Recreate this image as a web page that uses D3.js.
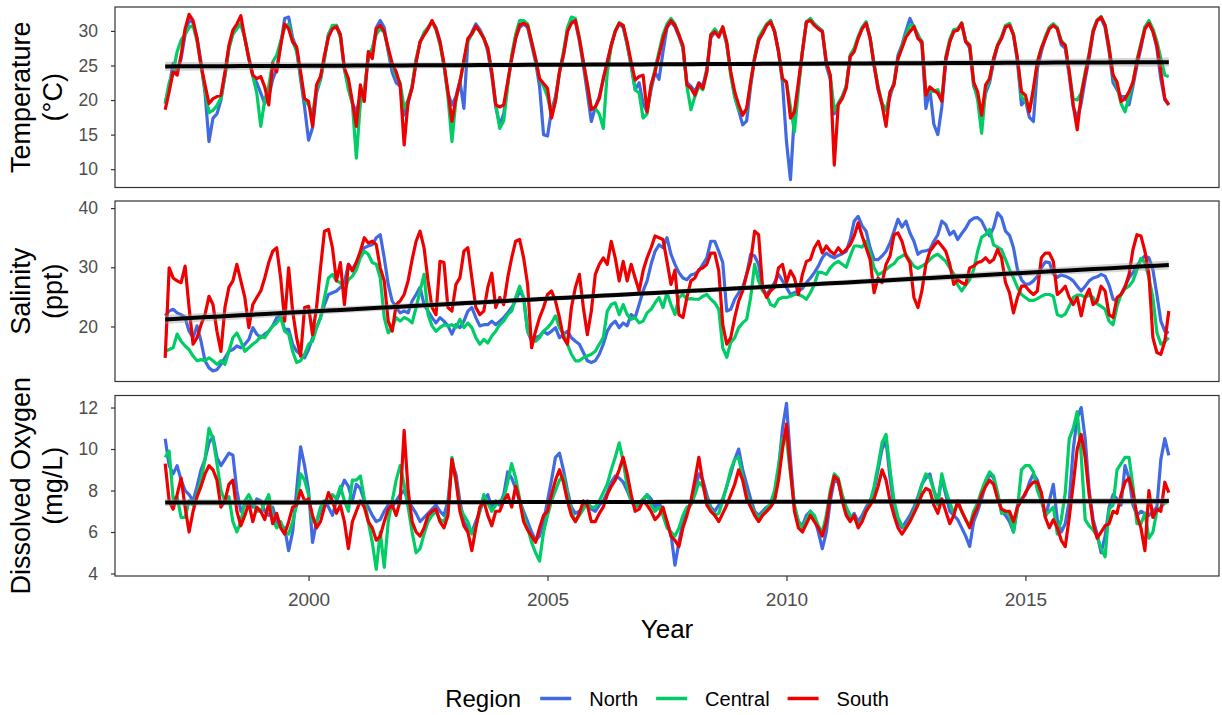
<!DOCTYPE html>
<html>
<head>
<meta charset="utf-8">
<script src="https://cdn.jsdelivr.net/npm/d3@7"></script>
<style>
  body { margin: 0; background: #fff; }
  svg { display: block; }
  text { font-family: "Liberation Sans", Arial, Helvetica, sans-serif; }
</style>
</head>
<body>
<svg id="chart" width="1222" height="715"></svg>
<script>
// Monthly observations, January 1997 to January 2018
const startYear = 1997;

const regions = ["North", "Central", "South"];
const regionColors = ["#4169E1", "#00CD66", "#EE0000"];

// Water temperature (°C)
const tempNorth = [
19.5,22.0,25.3,24.0,26.0,29.5,31.5,31.2,29.0,25.5,21.0,14.0,
17.4,18.0,20.0,23.5,27.5,29.8,30.5,31.0,29.0,26.0,23.5,22.5,
21.0,19.5,20.5,23.0,24.5,28.0,31.8,32.0,29.0,27.5,23.0,19.0,
14.2,16.0,21.0,23.0,26.0,29.5,30.5,30.8,29.5,24.5,22.0,19.5,
18.3,20.5,21.5,26.0,27.0,30.5,31.5,30.5,27.0,24.0,22.5,22.0,
17.8,19.5,22.0,25.5,28.5,29.5,30.5,31.3,30.5,28.5,25.0,21.0,
19.3,20.5,22.8,18.8,28.5,29.8,31.0,30.2,29.0,27.0,23.5,19.0,
16.4,18.0,22.5,26.0,29.0,30.5,31.0,30.5,28.0,25.5,22.0,15.0,
14.8,18.5,20.5,24.0,26.5,30.0,31.5,31.3,28.5,25.0,21.0,16.9,
19.0,20.5,23.0,25.5,28.0,30.0,31.0,30.5,28.0,25.0,21.5,22.5,
19.5,18.3,21.5,24.0,23.0,27.0,30.5,31.3,30.6,29.2,27.5,22.5,
22.0,21.2,22.5,22.0,24.5,29.0,29.8,29.5,30.3,28.0,24.0,20.5,
18.5,16.4,17.0,22.0,26.0,28.5,29.8,30.8,31.5,30.0,27.0,22.5,
14.0,8.5,18.0,22.0,27.0,31.3,31.7,31.0,30.5,30.0,25.0,23.0,
18.0,19.5,20.5,22.0,26.3,27.3,29.0,30.5,31.3,29.0,25.0,21.5,
19.5,18.5,20.5,22.5,26.5,28.0,30.0,31.8,30.5,29.5,28.0,18.8,
21.5,16.5,15.0,19.0,25.5,28.5,30.0,30.3,31.0,28.5,27.5,22.0,
20.5,17.8,21.0,22.5,25.5,27.8,29.0,30.5,31.0,29.5,25.5,19.3,
20.0,17.5,16.9,24.5,27.0,29.0,30.5,31.0,30.3,28.0,27.5,23.5,
19.0,17.4,19.5,23.0,26.0,29.8,31.5,31.8,30.5,27.0,22.5,21.5,
20.5,20.5,19.3,22.0,25.0,27.5,30.5,31.3,30.0,27.5,23.0,20.0,
19.3];
const tempCentral = [
19.5,22.5,24.0,27.0,28.7,29.5,30.5,30.8,28.5,25.0,21.5,18.2,
18.5,19.2,20.3,23.5,27.5,29.5,30.3,31.0,29.0,26.2,23.5,21.0,
16.2,20.0,22.0,25.5,26.5,28.5,30.5,31.0,28.5,27.0,23.5,20.0,
19.3,18.0,21.5,23.0,26.0,29.5,30.8,30.8,29.0,24.5,21.5,19.5,
11.6,19.5,21.0,26.5,27.5,29.5,30.3,29.8,27.3,25.0,23.5,22.5,
18.8,20.0,22.0,26.0,28.3,29.8,30.5,31.3,30.2,28.0,25.0,20.5,
14.0,20.0,22.5,25.5,28.5,29.5,30.5,30.0,29.0,27.5,24.0,19.5,
15.9,17.0,22.0,26.5,29.5,31.5,31.5,31.0,28.5,26.0,23.0,22.0,
20.5,17.8,20.0,24.0,27.0,30.5,32.0,31.8,29.0,25.5,22.3,19.0,
18.8,18.0,15.9,24.0,27.8,30.0,31.2,30.8,28.0,25.0,21.5,21.0,
17.4,18.0,22.0,24.5,27.0,29.5,31.0,31.8,31.0,29.5,27.5,22.0,
18.6,20.5,22.0,21.5,24.0,29.5,30.3,29.5,30.5,28.2,23.5,20.5,
18.5,18.1,18.5,22.5,26.3,29.0,30.0,31.0,31.5,30.0,27.0,23.0,
22.5,19.0,15.4,21.5,27.0,31.3,31.8,31.0,30.5,30.0,25.5,23.5,
18.5,19.5,20.5,22.0,26.5,27.5,29.2,30.5,31.3,29.0,25.3,22.0,
19.5,18.5,21.0,22.5,26.0,27.8,29.5,30.8,30.8,29.3,28.5,21.0,
21.2,21.3,21.5,20.0,26.3,28.8,30.2,30.3,31.2,28.6,28.0,22.5,
20.0,15.2,21.5,23.0,26.0,28.0,29.2,30.8,31.1,29.5,26.0,20.5,
19.8,18.6,21.0,25.5,27.5,29.2,30.5,31.0,30.5,28.6,28.0,24.0,
20.2,20.0,21.0,24.0,26.8,30.2,31.6,32.1,30.9,27.8,23.5,22.0,
19.5,18.3,20.5,22.5,25.8,28.2,30.6,31.5,30.3,28.5,26.0,23.6,
23.4];
const tempSouth = [
18.6,21.2,24.1,23.6,26.5,30.3,32.4,31.5,28.9,25.0,22.2,19.5,
20.2,20.5,20.7,24.0,27.9,30.1,31.0,32.2,28.9,26.0,23.6,23.1,
23.4,21.9,19.3,25.3,24.1,27.9,31.0,30.3,28.4,27.7,24.1,20.2,
19.8,16.2,22.2,23.4,26.5,29.1,30.3,30.6,29.4,24.6,23.1,19.8,
16.2,22.2,19.8,27.0,26.0,30.3,30.8,29.9,27.5,25.3,24.1,22.2,
13.5,19.8,21.7,25.5,28.4,29.4,30.3,31.5,30.3,28.4,25.3,21.2,
16.9,20.2,22.6,25.8,28.9,29.6,30.7,29.9,28.9,27.5,24.1,19.3,
19.0,19.3,22.6,26.0,28.9,30.9,31.1,30.8,28.4,26.0,23.1,22.4,
21.7,17.4,19.8,24.1,26.5,29.9,31.1,31.5,28.9,25.5,22.2,18.6,
19.0,20.2,23.1,25.5,27.9,29.9,31.1,30.8,28.4,25.5,22.9,23.4,
23.6,18.3,22.2,24.1,26.5,28.9,30.6,31.5,30.8,29.4,27.9,22.2,
21.7,20.7,22.4,21.7,24.1,29.4,29.9,29.1,30.6,28.4,24.1,21.2,
19.3,17.8,18.8,22.6,26.0,28.7,29.6,30.8,31.3,29.9,27.0,23.1,
22.6,17.4,18.3,22.6,27.0,31.3,31.5,30.8,30.3,29.9,25.5,23.6,
10.6,19.3,20.2,21.7,26.3,27.0,28.9,30.3,31.1,28.9,25.0,21.7,
19.3,16.2,21.2,22.2,26.0,27.5,29.1,29.9,30.6,28.9,28.4,20.7,
21.9,21.4,21.0,19.8,26.0,28.4,29.9,30.1,31.1,28.4,27.9,22.6,
21.2,17.8,22.2,23.1,26.0,27.9,28.9,30.6,30.8,29.4,26.0,21.2,
20.7,18.3,21.7,25.5,27.5,28.9,30.3,30.8,30.3,28.4,27.9,24.1,
19.3,15.7,20.7,23.6,26.5,29.9,31.5,32.0,30.8,27.5,23.6,22.6,
19.8,20.2,21.2,22.6,25.5,27.9,30.3,31.1,29.9,27.9,24.1,20.2,
19.3];

// Salinity (ppt)
const salNorth = [
21.8,22.6,22.9,22.3,22.0,21.5,19.2,18.1,20.1,17.5,14.2,13.0,
12.5,12.7,13.6,14.7,15.8,16.1,16.7,16.4,17.0,17.8,19.8,18.7,
18.1,18.7,19.2,20.1,21.5,21.8,19.5,19.5,17.0,15.8,15.3,14.7,
16.1,18.1,19.8,21.5,23.7,25.4,25.7,26.0,26.6,27.4,30.5,29.6,
30.8,32.2,33.3,33.6,33.8,35.0,35.5,31.6,27.1,24.3,23.2,22.3,
22.6,22.3,24.3,25.4,26.6,23.7,22.6,21.5,20.6,21.5,20.9,20.1,
18.7,20.3,19.8,20.9,22.6,23.2,21.5,20.1,20.3,20.3,20.9,20.3,
20.9,21.5,22.3,23.2,24.3,26.0,24.9,19.2,17.5,18.1,18.4,19.2,
18.7,19.2,19.8,18.1,18.7,19.2,18.1,17.5,17.0,15.6,14.2,13.9,
14.2,15.3,17.0,19.2,20.3,20.9,19.8,20.6,20.1,22.0,21.5,23.7,
26.0,27.7,30.5,32.7,33.8,33.3,
35.0,32.2,30.5,29.1,28.2,27.9,28.7,28.9,29.4,30.5,
31.6,34.4,34.4,32.7,30.8,22.6,22.9,24.6,25.7,26.6,
28.8,32.2,31.9,30.5,26.3,25.4,26.3,27.4,28.8,27.7,
26.6,25.4,25.7,26.0,26.4,27.4,28.2,29.1,30.2,31.6,
32.4,31.9,31.6,32.0,32.3,32.7,34.7,37.8,38.6,37.0,
36.1,33.3,31.3,31.3,31.9,32.7,34.1,36.1,38.1,36.8,
37.8,35.8,34.4,32.2,32.7,32.8,33.0,34.4,35.5,37.8,
37.2,35.5,36.1,34.7,35.7,36.6,37.8,38.3,38.4,37.8,
36.4,35.3,36.7,39.2,38.4,36.1,35.4,33.3,29.6,27.9,
27.1,27.2,27.7,28.5,29.9,30.9,30.8,28.9,28.3,28.7,
28.5,28.2,27.7,26.8,26.0,26.8,27.7,28.2,28.4,28.8,
28.5,27.0,24.6,24.3,25.4,26.8,28.2,29.1,30.2,31.3,
31.9,31.6,29.6,25.4,20.9,19.2,18.9];
const salCentral = [
15.8,16.1,16.4,18.7,17.5,16.7,16.1,15.0,14.2,14.4,14.2,14.7,
14.2,13.6,14.2,13.6,15.8,18.1,18.9,17.5,15.8,16.4,17.0,17.5,
18.4,18.1,19.2,20.1,20.6,21.5,19.2,18.7,15.8,13.9,14.2,15.3,
17.0,17.5,19.8,21.5,24.9,28.2,28.8,27.7,27.4,26.0,27.9,28.5,
29.6,31.6,32.7,32.2,30.8,30.5,28.2,21.5,18.9,19.8,21.5,20.9,
21.5,21.2,20.6,23.2,26.0,28.8,22.0,20.1,19.2,19.8,20.3,20.1,
20.3,19.8,21.2,19.8,20.6,19.8,18.1,17.0,17.8,17.2,18.4,19.2,
20.3,20.9,22.0,22.6,24.9,26.8,24.9,19.2,18.1,17.5,18.1,19.2,
19.8,20.6,21.8,19.8,18.7,17.0,15.3,14.2,14.2,14.7,15.0,15.3,
15.8,17.0,18.1,22.6,23.7,24.0,22.0,23.7,22.0,21.2,21.5,20.6,
20.9,22.3,22.9,24.0,24.9,23.2,
25.7,23.7,22.0,24.9,25.4,24.6,24.7,24.6,24.6,25.1,
25.4,24.6,24.0,22.9,16.4,14.8,17.3,18.1,19.8,20.6,
21.2,24.9,30.5,27.7,26.0,25.3,23.7,23.4,24.6,24.9,
24.9,25.1,25.4,25.4,25.1,24.6,25.7,27.1,29.2,29.1,
28.8,29.9,30.6,31.0,30.5,30.0,31.9,33.6,33.6,33.4,
34.4,32.4,29.9,28.7,29.1,29.6,30.2,30.6,31.5,31.9,
32.2,31.1,30.2,29.8,30.2,30.6,31.3,31.9,32.2,31.6,
31.0,29.9,28.9,27.0,26.0,27.0,27.9,29.6,32.7,35.1,
35.5,36.4,33.8,33.4,33.0,31.3,29.6,28.2,26.6,25.4,
24.9,24.4,24.4,24.7,25.1,25.4,25.4,25.1,22.0,21.7,
22.1,23.4,24.9,25.3,25.3,24.9,25.3,24.9,23.8,23.4,
22.9,20.9,20.3,23.4,25.4,26.4,26.8,27.7,29.6,31.5,
30.8,28.2,24.9,19.0,17.0,17.5,18.1];
const salSouth = [
14.7,29.9,28.2,27.7,27.4,30.2,23.2,17.0,18.1,20.3,22.0,25.1,
23.7,19.2,15.8,23.2,26.6,27.7,30.5,27.7,24.9,19.8,23.7,24.9,
26.0,28.2,30.8,32.7,33.3,28.2,20.9,29.9,22.6,18.1,15.0,23.2,
23.4,18.6,23.2,29.9,36.1,36.4,33.3,27.7,30.8,23.7,30.5,29.4,
30.8,32.7,35.0,34.1,34.4,33.8,29.9,27.7,20.9,19.2,23.7,24.3,
25.4,27.7,31.3,34.4,36.1,33.3,27.7,23.2,22.0,31.0,30.8,23.2,
22.6,27.1,28.2,32.7,33.3,28.2,23.2,22.0,22.6,26.6,29.0,23.2,
24.9,23.7,28.2,31.6,34.4,34.7,31.6,27.1,16.4,19.2,21.5,23.2,
25.4,26.0,24.3,21.5,18.1,17.0,23.2,26.6,28.8,23.2,18.6,22.6,
28.8,30.5,31.6,30.5,34.4,31.6,27.7,31.0,27.7,30.5,28.2,26.0,
29.4,31.6,33.3,35.3,35.0,
34.7,31.0,27.1,29.5,22.0,21.5,24.9,27.7,28.2,29.6,29.9,30.5,
32.4,32.4,29.4,20.3,17.0,18.1,21.5,24.3,26.0,28.8,31.0,36.1,
35.5,26.6,24.9,26.0,26.6,29.9,30.5,27.4,29.4,28.2,25.4,28.8,
31.0,31.3,33.3,34.4,32.4,33.6,32.7,32.2,33.3,32.4,33.0,33.8,
35.3,37.5,35.3,33.3,31.3,25.7,28.2,27.4,30.5,31.9,35.5,35.8,
34.4,31.9,30.8,24.9,23.2,26.0,30.5,32.7,33.6,34.4,33.6,32.7,
30.5,27.1,27.9,27.4,27.1,29.9,30.2,30.8,31.0,31.6,30.8,31.3,
33.0,31.6,27.4,25.7,22.3,24.9,26.8,26.8,26.0,25.4,26.0,31.6,
32.4,32.4,31.0,25.4,26.0,26.8,24.9,23.7,24.9,21.8,24.9,26.3,
23.7,24.3,26.8,26.0,22.0,21.5,24.9,25.4,26.6,28.8,33.0,35.5,
35.3,32.7,28.8,18.1,15.6,15.3,17.5,22.6];

// Dissolved oxygen (mg/L)
const doNorth = [
10.5,9.2,8.8,9.2,8.5,8.0,7.8,7.5,8.2,9.0,9.5,10.3,
10.6,9.6,9.2,9.5,9.8,9.7,8.0,7.0,7.3,7.5,7.2,7.6,
7.5,7.0,6.8,7.2,6.5,6.3,6.2,5.1,6.0,8.0,10.1,9.2,
8.0,5.5,6.5,7.0,7.5,7.2,6.8,7.5,8.0,8.5,8.2,7.5,
8.3,8.1,7.5,7.2,6.8,6.5,6.6,7.0,7.3,7.2,7.5,7.8,
8.0,7.5,7.2,6.9,6.5,6.7,6.9,7.1,7.3,7.0,6.8,7.5,
9.3,8.8,7.5,6.5,6.2,6.0,6.5,7.0,7.5,7.8,7.2,7.5,
7.3,7.8,8.9,8.6,8.1,7.5,7.0,6.5,6.0,5.6,5.8,6.5,
7.5,8.5,9.6,9.8,9.0,8.0,7.2,6.9,7.0,7.2,7.5,7.1,
7.0,7.3,7.5,7.9,8.4,8.7,8.6,8.4,8.0,7.5,7.2,7.3,
7.5,7.8,7.6,7.2,7.4,7.0,6.5,5.9,4.4,5.5,6.5,7.0,
7.4,8.0,8.8,8.5,7.8,7.2,7.0,7.3,7.6,8.2,8.8,9.5,
10.0,9.0,8.3,7.6,7.0,6.8,7.0,7.2,7.3,7.8,9.0,11.0,
12.2,9.5,7.2,6.5,6.3,6.8,7.0,6.7,6.0,5.2,6.0,7.5,
8.5,8.4,7.6,7.0,6.6,6.9,6.5,6.8,7.2,7.5,8.0,9.0,
10.0,10.4,8.6,7.2,6.5,6.2,6.5,6.8,7.2,7.7,8.3,8.6,
8.8,8.0,7.5,8.6,7.8,7.0,6.8,6.6,6.2,5.8,5.3,6.5,
7.0,7.6,8.3,8.8,8.6,7.8,
7.0,6.8,6.5,6.0,7.3,7.6,7.8,8.4,8.8,8.5,
7.8,6.7,7.5,8.3,6.6,6.0,6.4,7.5,10.0,11.5,
12.0,10.5,8.0,6.6,5.9,5.0,5.8,7.2,7.8,7.6,
7.3,9.2,8.6,7.3,6.8,7.0,6.9,6.8,7.0,7.2,
9.5,10.5,9.7];
const doCentral = [
9.6,9.9,7.6,7.7,6.7,6.7,7.5,7.3,7.8,8.5,9.5,11.0,
10.5,9.3,8.0,7.5,7.7,6.5,6.0,6.5,7.5,7.8,7.4,7.0,
7.0,7.4,7.8,6.6,6.2,6.5,6.0,5.9,6.5,7.3,8.8,8.5,
7.8,6.5,6.5,7.2,7.5,7.4,7.8,7.6,8.2,7.5,7.0,8.5,
8.5,8.7,7.6,6.5,5.5,4.2,6.0,4.3,6.5,7.5,8.5,9.2,
8.3,7.2,6.0,5.0,5.2,5.9,6.5,6.8,7.0,6.6,6.5,7.0,
9.6,8.5,7.2,6.8,6.5,5.9,6.3,7.0,7.8,7.4,7.0,7.3,
7.5,7.6,8.4,9.3,8.6,7.6,6.8,6.2,5.5,5.0,4.6,6.0,
6.8,7.5,8.0,8.5,8.7,7.8,7.0,6.5,6.8,7.1,7.4,7.2,
7.2,7.5,7.9,8.3,9.0,9.6,10.3,9.4,8.2,7.5,7.2,7.4,
7.6,7.8,7.3,7.0,7.2,6.8,6.2,6.0,5.8,6.2,6.8,7.2,
7.3,7.8,8.4,8.2,7.6,7.1,6.8,6.9,7.5,8.2,9.0,9.5,
9.6,8.6,7.8,7.3,6.9,6.7,6.9,7.1,7.4,8.0,9.2,10.5,
10.5,8.8,7.3,6.5,6.2,6.6,7.0,6.8,6.3,6.0,6.8,8.0,
8.8,8.6,7.8,7.2,6.8,6.7,6.3,6.6,7.0,7.4,8.2,9.2,
10.3,10.7,9.0,7.5,6.7,6.3,6.2,6.6,7.0,7.5,8.3,8.8,
8.6,8.0,7.3,8.8,8.0,7.4,6.9,7.4,7.0,6.6,6.3,7.0,
7.4,8.0,8.5,8.9,8.7,7.9,
6.9,7.0,6.8,6.0,7.1,9.0,9.2,9.2,8.9,8.0,
7.5,6.8,7.0,7.2,5.9,6.6,7.9,10.5,11.0,11.8,
9.7,6.6,6.3,6.1,5.8,5.2,4.8,7.1,7.3,9.0,
9.3,9.6,9.6,8.2,6.4,6.4,6.9,5.7,6.0,7.0,
7.2,7.4,7.5];
const doSouth = [
9.3,7.5,7.1,7.8,8.6,7.2,6.0,7.0,7.7,8.2,8.8,9.2,
9.0,8.5,7.2,7.5,8.3,8.5,7.0,6.3,6.8,7.4,6.5,7.2,
7.0,6.6,7.4,6.4,6.9,6.2,5.9,6.5,7.2,7.3,8.0,7.5,
7.6,6.8,6.2,6.5,7.2,7.9,7.5,6.9,7.3,6.5,5.2,6.5,
7.0,7.5,7.2,6.5,6.2,5.6,5.8,6.5,7.1,7.3,6.8,7.5,
10.9,8.0,6.5,6.0,5.8,6.2,6.8,7.0,7.1,6.5,6.2,6.8,
9.5,8.5,7.0,6.3,6.0,5.1,6.2,7.2,7.5,6.8,6.3,7.0,
7.0,7.5,7.8,7.2,8.2,7.5,6.5,6.1,5.8,5.5,6.2,6.8,
7.0,7.8,8.5,9.0,8.4,7.5,6.8,6.5,6.9,7.5,7.3,6.5,
6.5,6.9,7.2,7.8,8.2,8.5,9.0,9.6,8.8,7.8,7.0,7.1,
7.5,7.3,7.0,6.6,6.8,7.2,6.5,5.8,5.6,5.3,6.2,6.8,
7.5,8.5,9.6,8.4,7.3,7.0,6.8,6.5,6.9,7.3,7.8,8.3,
9.0,8.5,7.6,7.2,6.8,6.5,6.8,7.0,7.2,7.5,8.5,10.0,
11.2,9.0,7.0,6.2,6.0,6.4,6.8,6.5,6.2,5.8,6.5,7.8,
8.7,8.5,7.5,6.8,6.5,6.8,6.2,6.5,7.0,7.3,7.6,8.2,
9.0,8.5,7.5,6.8,6.2,5.9,6.2,6.5,6.9,7.3,7.8,8.1,
8.0,7.3,6.9,7.6,7.0,6.4,6.8,7.5,7.0,6.6,6.2,6.8,
7.2,7.8,8.2,8.5,8.3,7.6,
7.1,7.0,7.0,6.5,7.2,7.5,7.9,8.2,8.4,8.4,
7.9,6.7,6.2,6.6,6.2,5.6,5.3,6.7,8.3,10.0,
10.7,9.6,7.8,6.4,5.7,6.0,6.3,6.4,7.0,6.9,
7.8,8.4,8.6,7.9,6.8,6.2,5.1,8.0,6.7,7.1,
7.0,8.4,7.9];

// Facet titles, y ticks and y limits, one entry per panel
const panelTitles = [["Temperature", "(°C)"], ["Salinity", "(ppt)"], ["Dissolved Oxygen", "(mg/L)"]];
const tempTicks = [10, 15, 20, 25, 30];
const salTicks = [20, 30, 40];
const doTicks = [4, 6, 8, 10, 12];
const tempLimits = [7.35, 33.46];
const salLimits = [10.7, 41.2];
const doLimits = [3.88, 12.58];

// Shared x axis
const xTicks = [2000, 2005, 2010, 2015];
const xLimits = [1995.95, 2019.05];
const xTitle = "Year";
const legendTitle = "Region";

const panels = [
  { title: panelTitles[0], series: [tempNorth, tempCentral, tempSouth], ticks: tempTicks, limits: tempLimits },
  { title: panelTitles[1], series: [salNorth, salCentral, salSouth], ticks: salTicks, limits: salLimits },
  { title: panelTitles[2], series: [doNorth, doCentral, doSouth], ticks: doTicks, limits: doLimits }
];

const months = d3.range(tempSouth.length).map(i => startYear + i / 12);

// layout
const plotLeft = 115, plotRight = 1219;
const panelTops = [7, 201, 395.5];
const panelH = 180.5;
const ink = "#333333", tickText = "#4D4D4D";
const fontStack = '"Liberation Sans", Arial, sans-serif';

const svg = d3.select("#chart");
const x = d3.scaleLinear().domain(xLimits).range([plotLeft, plotRight]);

// Ordinary least squares over every region's observations, with a 95% band
function linearFit(ts, vs) {
  const n = ts.length;
  const mt = d3.mean(ts), mv = d3.mean(vs);
  let sxx = 0, sxy = 0;
  for (let i = 0; i < n; i++) { sxx += (ts[i] - mt) ** 2; sxy += (ts[i] - mt) * (vs[i] - mv); }
  const b = sxy / sxx, a = mv - b * mt;
  let sse = 0;
  for (let i = 0; i < n; i++) sse += (vs[i] - (a + b * ts[i])) ** 2;
  const s = Math.sqrt(sse / (n - 2));
  return {
    predict: t => a + b * t,
    se: t => s * Math.sqrt(1 / n + (t - mt) ** 2 / sxx)
  };
}

panels.forEach((p, k) => {
  const top = panelTops[k];
  const y = d3.scaleLinear().domain(p.limits).range([top + panelH, top]);
  const g = svg.append("g");

  // white panel
  g.append("rect").attr("x", plotLeft).attr("y", top)
    .attr("width", plotRight - plotLeft).attr("height", panelH).attr("fill", "#fff");

  // regional series
  const line = d3.line().x((d, i) => x(months[i])).y(d => y(d));
  p.series.forEach((vals, r) => {
    g.append("path").datum(vals)
      .attr("d", line)
      .attr("fill", "none")
      .attr("stroke", regionColors[r])
      .attr("stroke-width", 3.2)
      .attr("stroke-linejoin", "round")
      .attr("stroke-linecap", "butt");
  });

  // linear trend with confidence band
  const ts = [], vs = [];
  p.series.forEach(vals => vals.forEach((v, i) => { ts.push(months[i]); vs.push(v); }));
  const fit = linearFit(ts, vs);
  const grid = d3.range(81).map(j => months[0] + (months[months.length - 1] - months[0]) * j / 80);
  g.append("path").datum(grid)
    .attr("d", d3.area().x(t => x(t))
      .y0(t => y(fit.predict(t) - 1.963 * fit.se(t)))
      .y1(t => y(fit.predict(t) + 1.963 * fit.se(t))))
    .attr("fill", "#999999").attr("fill-opacity", 0.4);
  g.append("path").datum(grid)
    .attr("d", d3.line().x(t => x(t)).y(t => y(fit.predict(t))))
    .attr("fill", "none").attr("stroke", "#000").attr("stroke-width", 4);

  // panel border
  g.append("rect").attr("x", plotLeft).attr("y", top)
    .attr("width", plotRight - plotLeft).attr("height", panelH)
    .attr("fill", "none").attr("stroke", ink).attr("stroke-width", 1.2);

  // y axis
  const ya = g.append("g").attr("transform", `translate(${plotLeft},0)`)
    .call(d3.axisLeft(y).tickValues(p.ticks).tickSize(4).tickPadding(13).tickFormat(d3.format("d")));
  ya.select(".domain").remove();
  ya.selectAll(".tick line").attr("stroke", ink).attr("stroke-width", 1.2);
  ya.selectAll(".tick text").attr("fill", tickText).style("font-size", "17.5px")
    .style("font-family", fontStack);

  // facet title (two lines, rotated)
  const yc = top + panelH / 2;
  g.append("text").attr("transform", `translate(30,${yc}) rotate(-90)`)
    .attr("text-anchor", "middle").style("font-size", "27px").attr("fill", "#000").text(p.title[0]);
  g.append("text").attr("transform", `translate(62,${yc}) rotate(-90)`)
    .attr("text-anchor", "middle").style("font-size", "27px").attr("fill", "#000").text(p.title[1]);
});

// x axis under the last panel
const bottom = panelTops[2] + panelH;
const xa = svg.append("g").attr("transform", `translate(0,${bottom})`)
  .call(d3.axisBottom(x).tickValues(xTicks).tickSize(5).tickPadding(12).tickFormat(d3.format("d")));
xa.select(".domain").remove();
xa.selectAll(".tick line").attr("stroke", ink).attr("stroke-width", 1.2);
xa.selectAll(".tick text").attr("fill", tickText).style("font-size", "19px")
  .style("font-family", fontStack);

svg.append("text").attr("x", (plotLeft + plotRight) / 2).attr("y", 638)
  .attr("text-anchor", "middle").style("font-size", "26px").attr("fill", "#000").text(xTitle);

// legend, centred under the panels
const lg = svg.append("g");
const legendY = 698.5;
const lt = lg.append("text").attr("y", legendY + 8).style("font-size", "24px").attr("fill", "#000").text(legendTitle);
let cx = lt.node().getComputedTextLength() + 19;
regions.forEach((name, r) => {
  const keyX = cx;
  lg.append("line").attr("x1", keyX).attr("x2", keyX + 31).attr("y1", legendY).attr("y2", legendY)
    .attr("stroke", regionColors[r]).attr("stroke-width", 3.5);
  const t = lg.append("text").attr("x", keyX + 49).attr("y", legendY + 7.5)
    .style("font-size", "20px").attr("fill", "#000").text(name);
  cx = keyX + 49 + t.node().getComputedTextLength() + 18;
});
const legendW = cx - 18;
lg.attr("transform", `translate(${(plotLeft + plotRight) / 2 - legendW / 2},0)`);
</script>
</body>
</html>
